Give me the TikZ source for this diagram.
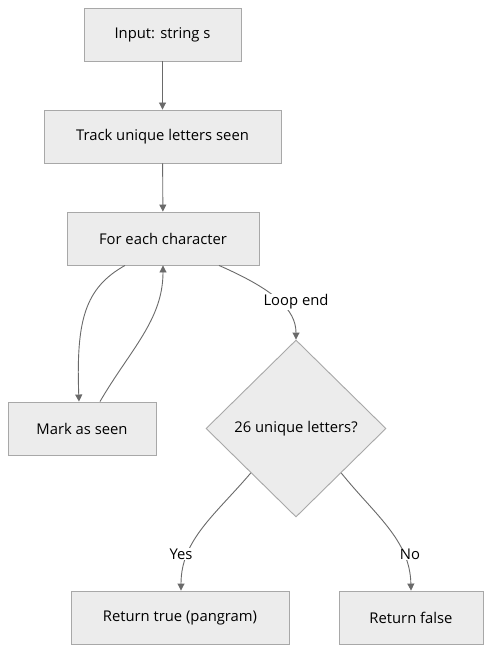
\documentclass[tikz,border=0pt]{standalone}
\usepackage{fontspec}
\setmainfont{Open Sans}
\usetikzlibrary{shapes.geometric,arrows.meta,calc}
\definecolor{boxfill}{HTML}{ECECEC}
\definecolor{boxline}{HTML}{A8A8A8}
\definecolor{edgecol}{HTML}{6A6A6A}
\begin{document}
\begin{tikzpicture}[x=1pt,y=-1pt,
  box/.style={draw=boxline,fill=boxfill,line width=0.9pt,minimum height=53pt,inner sep=0pt,font=\fontsize{14.8}{17}\selectfont},
  dia/.style={draw=boxline,fill=boxfill,line width=0.9pt,shape=diamond,minimum width=180pt,minimum height=177pt,inner sep=0pt,font=\fontsize{14.8}{17}\selectfont},
  edge/.style={draw=edgecol,line width=0.9pt,-{Triangle[length=7pt,width=7pt]}},
  lbl/.style={fill=white,inner sep=1pt,font=\fontsize{14.8}{17}\selectfont}]
\useasboundingbox[fill=white] (0,0) rectangle (499,663);
\node[box,minimum width=157pt] (in) at (162.5,34.5) {Input: string s};
\node[box,minimum width=237pt] (track) at (162.5,136.5) {Track unique letters seen};
\node[box,minimum width=192pt] (for) at (163,238.5) {For each character};
\node[box,minimum width=148pt] (mark) at (82,428.5) {Mark as seen};
\node[dia] (d) at (296,428.5) {26 unique letters?};
\node[box,minimum width=218pt] (rt) at (180,617.5) {Return true (pangram)};
\node[box,minimum width=144pt] (rf) at (411,617.5) {Return false};

\draw[edge] (in) -- (track);
\draw[edge] (track) -- (for);
\draw[edge] ([xshift=-38pt]for.south) .. controls (85,288) and (76,320) .. ([xshift=-3pt]mark.north);
\draw[edge] ([xshift=18pt]mark.north) .. controls (130,350) and (163,320) .. (for.south);
\draw[edge] ([xshift=56pt]for.south) .. controls (275,290) and (296,310) .. (d.north);
\node[lbl] (le) at (296,302) {Loop end};
\draw[edge] (d.south west) .. controls (215,515) and (181,540) .. ([xshift=1pt]rt.north);
\node[lbl] (yes) at (181,554) {Yes};
\draw[edge] (d.south east) .. controls (375,515) and (410,540) .. (rf.north);
\node[lbl] (no) at (410,554) {No};
\end{tikzpicture}
\end{document}
